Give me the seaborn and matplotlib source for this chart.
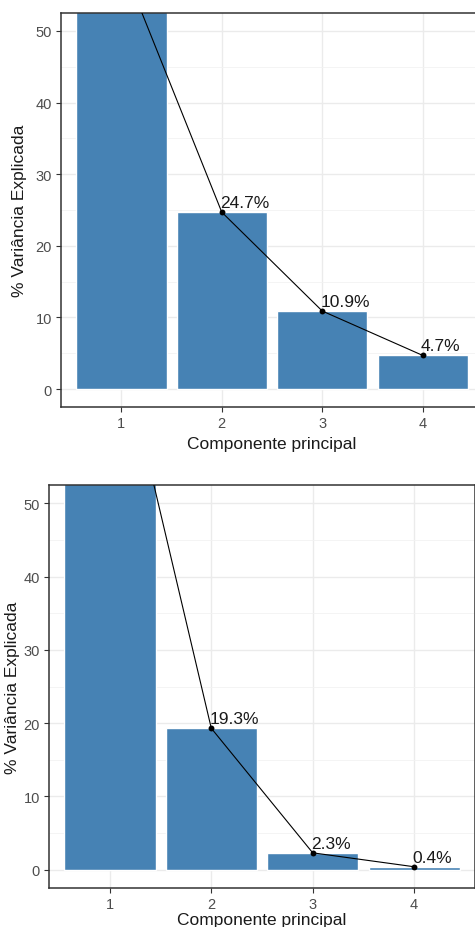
import matplotlib
matplotlib.use("Agg")
import matplotlib.pyplot as plt
import seaborn as sns
import pandas as pd
from matplotlib.ticker import MultipleLocator

# Explained variance (%) per principal component, two analyses
componentes = [1, 2, 3, 4]
variancia_a = [59.7, 24.7, 10.9, 4.7]
variancia_b = [78.0, 19.3, 2.3, 0.4]
rotulos_a = ["59.7%", "24.7%", "10.9%", "4.7%"]
rotulos_b = ["78.0%", "19.3%", "2.3%", "0.4%"]
yticks = [0, 10, 20, 30, 40, 50]

sns.set_theme(style="white")
plt.rcParams["font.family"] = ["Liberation Sans", "DejaVu Sans"]

BAR = "#4682B4"
BORDER = "#333333"
TICKC = "#4D4D4D"

fig = plt.figure(figsize=(4.75, 9.28), dpi=100)

ax_top = fig.add_axes([61 / 475, (928 - 408) / 928, 422 / 475, 394 / 928])
ax_bot = fig.add_axes([49 / 475, (928 - 889) / 928, 426 / 475, 403 / 928])


def scree(ax, valores, rotulos, ylab_pad, xlab_pad):
    df = pd.DataFrame({"comp": componentes, "var": valores, "lab": rotulos})
    sns.barplot(data=df, x="comp", y="var", native_scale=True, width=0.9,
                color=BAR, saturation=1, ax=ax, zorder=2)
    sns.lineplot(data=df, x="comp", y="var", color="black", linewidth=0.8,
                 ax=ax, zorder=3)
    sns.scatterplot(data=df, x="comp", y="var", color="black", s=18,
                    edgecolor="black", linewidth=0, ax=ax, zorder=4)
    for _, r in df.iterrows():
        if r["var"] < 52:
            ax.annotate(r["lab"], (r["comp"], r["var"]), xytext=(-1.5, 1.5),
                        textcoords="offset points", ha="left", va="bottom",
                        fontsize=12.5, color="#1A1A1A", zorder=5)
    ax.set_xlim(0.4, 4.6)
    ax.set_ylim(-2.5, 52.5)
    ax.set_xticks(componentes)
    ax.set_xticklabels([str(c) for c in componentes])
    ax.set_yticks(yticks)
    ax.yaxis.set_minor_locator(MultipleLocator(5))
    ax.grid(which="major", color="#EBEBEB", linewidth=1.0, zorder=0)
    ax.grid(which="minor", axis="y", color="#F2F2F2", linewidth=0.6, zorder=0)
    ax.set_axisbelow(True)
    for s in ax.spines.values():
        s.set_color(BORDER)
        s.set_linewidth(1.1)
    ax.tick_params(axis="both", which="major", length=3.5, width=0.8,
                   color=BORDER, labelcolor=TICKC, labelsize=10.5, pad=3,
                   left=True, bottom=True)
    ax.tick_params(which="minor", length=0)
    ax.set_xlabel("Componente principal", fontsize=12.5, color="#1A1A1A",
                  labelpad=xlab_pad)
    ax.set_ylabel("% Variância Explicada", fontsize=12.5, color="#1A1A1A",
                  labelpad=ylab_pad)


scree(ax_top, variancia_a, rotulos_a, 6, 4)
scree(ax_bot, variancia_b, rotulos_b, 2.5, 0.5)

fig.savefig("out.png", dpi=100, facecolor="white")
